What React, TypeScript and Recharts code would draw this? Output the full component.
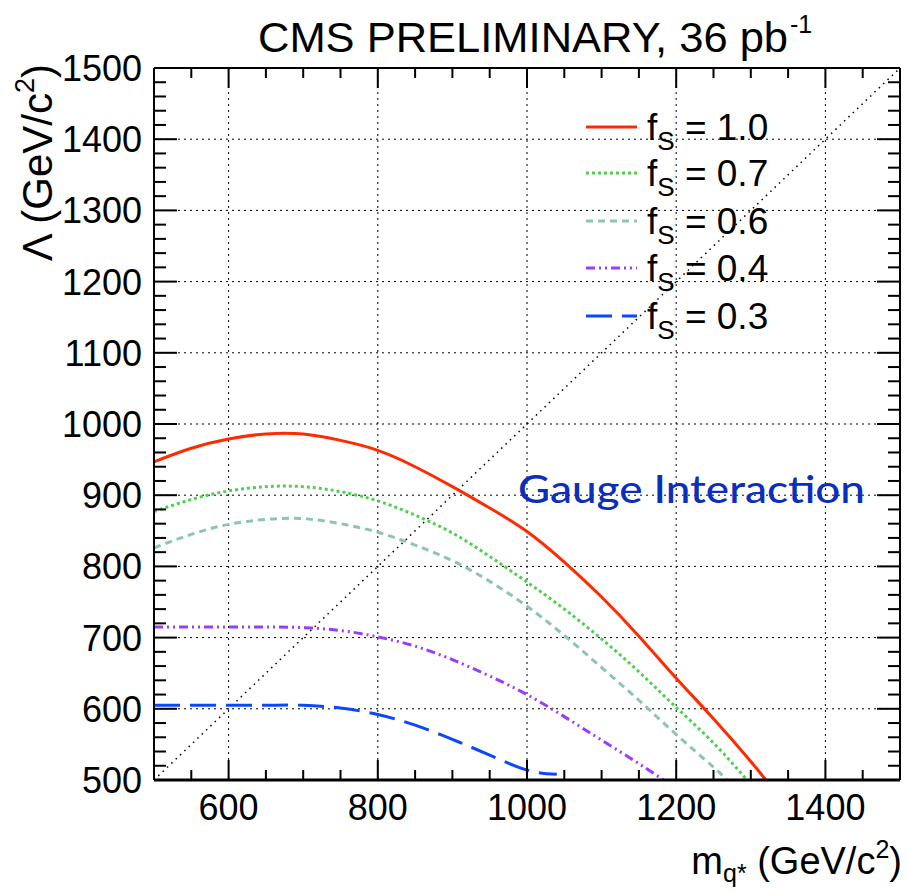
import React from 'react';
import { ComposedChart, Line, XAxis, YAxis, CartesianGrid, Customized } from 'recharts';

// q* mass (GeV/c^2) and Lambda limit (GeV/c^2)
const massF10 = [500, 550, 600, 650, 700, 750, 800, 850, 900, 950, 1000, 1050, 1100, 1150, 1200, 1250, 1300, 1320];
const lambdaF10 = [947, 966, 979, 986, 986, 977, 963, 940, 912, 882, 849, 806, 757, 702, 643, 586, 526, 500];

const massF07 = [500, 550, 600, 650, 700, 750, 800, 850, 900, 950, 1000, 1050, 1100, 1150, 1200, 1250, 1295];
const lambdaF07 = [877, 894, 906, 912, 912, 905, 892, 872, 847, 814, 778, 740, 698, 652, 602, 552, 500];

const massF06 = [500, 550, 600, 650, 700, 750, 800, 850, 900, 950, 1000, 1050, 1100, 1150, 1200, 1250, 1268];
const lambdaF06 = [826, 845, 859, 866, 867, 860, 848, 830, 808, 779, 744, 703, 658, 612, 564, 518, 500];

const massF04 = [500, 550, 600, 650, 700, 750, 800, 850, 900, 950, 1000, 1050, 1100, 1150, 1183];
const lambdaF04 = [715, 715, 715, 715, 714, 710, 701, 688, 669, 646, 620, 589, 556, 523, 500];

const massF03 = [500, 550, 600, 650, 700, 750, 800, 850, 900, 950, 1000, 1040];
const lambdaF03 = [605, 605, 605, 605, 605, 601, 592, 577, 557, 535, 514, 508];

const diagMass = [500, 1500];
const diagLambda = [500, 1500];

const xTicks = [500, 550, 600, 650, 700, 750, 800, 850, 900, 950, 1000, 1050, 1100, 1150, 1200, 1250, 1300, 1350, 1400, 1450, 1500];
const xLabels = [600, 800, 1000, 1200, 1400];
const yTicks = [
  500, 520, 540, 560, 580, 600, 620, 640, 660, 680, 700, 720, 740, 760, 780, 800, 820, 840, 860, 880,
  900, 920, 940, 960, 980, 1000, 1020, 1040, 1060, 1080, 1100, 1120, 1140, 1160, 1180, 1200, 1220, 1240,
  1260, 1280, 1300, 1320, 1340, 1360, 1380, 1400, 1420, 1440, 1460, 1480, 1500,
];
const yLabels = [500, 600, 700, 800, 900, 1000, 1100, 1200, 1300, 1400, 1500];
const gridX = [600, 800, 1000, 1200, 1400];
const gridY = [600, 700, 800, 900, 1000, 1100, 1200, 1300, 1400];

const zip = (xs: number[], ys: number[]) => xs.map((x, i) => ({ x, y: ys[i] }));

const series = [
  { name: '1.0', data: zip(massF10, lambdaF10), color: '#ff2a00', dash: undefined },
  { name: '0.7', data: zip(massF07, lambdaF07), color: '#4fd04f', dash: '3 3' },
  { name: '0.6', data: zip(massF06, lambdaF06), color: '#8cc6ac', dash: '7 5' },
  { name: '0.4', data: zip(massF04, lambdaF04), color: '#9a3cff', dash: '9 4 2 4 2 4' },
  { name: '0.3', data: zip(massF03, lambdaF03), color: '#0a48ff', dash: '26 10' },
];

const FONT = '"Liberation Sans", Arial, Helvetica, sans-serif';

const BottomTick = (props: any) => {
  const { x, y, payload } = props;
  const v = payload.value;
  const major = v % 200 === 0;
  return (
    <g>
      <path d={`M${x},${y}V${y - (major ? 20 : 10)}`} stroke="#000" strokeWidth={2} fill="none" />
      {xLabels.includes(v) && (
        <text x={x} y={y + 40} textAnchor="middle" fontSize={36} fontFamily={FONT} fill="#000" stroke="none">
          {v}
        </text>
      )}
    </g>
  );
};

const TopTick = (props: any) => {
  const { x, y, payload } = props;
  const major = payload.value % 200 === 0;
  return <path d={`M${x},${y}V${y + (major ? 20 : 10)}`} stroke="#000" strokeWidth={2} fill="none" />;
};

const LeftTick = (props: any) => {
  const { x, y, payload } = props;
  const v = payload.value;
  const major = v % 100 === 0;
  return (
    <g>
      <path d={`M${x},${y}H${x + (major ? 23 : 12)}`} stroke="#000" strokeWidth={2} fill="none" />
      {yLabels.includes(v) && (
        <text x={x - 12} y={y + 13} textAnchor="end" fontSize={36} fontFamily={FONT} fill="#000" stroke="none">
          {v}
        </text>
      )}
    </g>
  );
};

const RightTick = (props: any) => {
  const { x, y, payload } = props;
  const major = payload.value % 100 === 0;
  return <path d={`M${x},${y}H${x - (major ? 23 : 12)}`} stroke="#000" strokeWidth={2} fill="none" />;
};

const Overlay = () => {
  const rows = [127, 173, 221, 268, 316];
  return (
    <g fontFamily={FONT} fill="#000">
      <text x={258} y={52} fontSize={42} textLength={530} lengthAdjust="spacingAndGlyphs">
        CMS PRELIMINARY, 36 pb
      </text>
      <text x={790} y={33} fontSize={25}>-1</text>
      <text x={902} y={874} fontSize={38} textAnchor="end">
        m<tspan fontSize={25} dy={8}>q*</tspan>
        <tspan dy={-8}> (GeV/c</tspan>
        <tspan fontSize={25} dy={-16}>2</tspan>
        <tspan dy={16}>)</tspan>
      </text>
      <text x={52} y={64} fontSize={42} textAnchor="end" transform="rotate(-90 52 64)">
        Λ (GeV/c<tspan fontSize={27} dy={-18}>2</tspan>
        <tspan dy={18}>)</tspan>
      </text>
      <text x={518} y={503} fontSize={38} fill="#0b2fbd" fontFamily="Lato, 'Open Sans', sans-serif" fontWeight={500} textLength={347} lengthAdjust="spacingAndGlyphs">
        Gauge Interaction
      </text>
      {series.map((s, i) => (
        <g key={s.name}>
          <line x1={586} x2={637} y1={rows[i]} y2={rows[i]} stroke={s.color} strokeWidth={3} strokeDasharray={s.dash} />
          <text x={647} y={rows[i] + 13} fontSize={37}>
            f<tspan fontSize={26} dy={10}>S</tspan>
            <tspan dy={-10}> = {s.name}</tspan>
          </text>
        </g>
      ))}
    </g>
  );
};

export default function App() {
  return (
    <div style={{ position: 'absolute', left: 0, top: 0, background: '#fff' }}>
      <ComposedChart width={907} height={894} margin={{ top: 8, right: 2, bottom: 4, left: 4 }}>
        <CartesianGrid
          stroke="#000"
          strokeWidth={1}
          strokeDasharray="2 4"
          verticalValues={gridX}
          horizontalValues={gridY}
        />
        <XAxis
          xAxisId={0}
          type="number"
          dataKey="x"
          domain={[500, 1500]}
          allowDataOverflow
          ticks={xTicks}
          interval={0}
          height={110}
          tickSize={0}
          tickMargin={0}
          tickLine={false}
          tick={<BottomTick />}
          axisLine={{ stroke: '#000', strokeWidth: 3 }}
        />
        <XAxis
          xAxisId="top"
          orientation="top"
          type="number"
          dataKey="x"
          domain={[500, 1500]}
          allowDataOverflow
          ticks={xTicks}
          interval={0}
          height={60}
          tickSize={0}
          tickMargin={0}
          tickLine={false}
          tick={<TopTick />}
          axisLine={{ stroke: '#000', strokeWidth: 2 }}
        />
        <YAxis
          yAxisId={0}
          type="number"
          dataKey="y"
          domain={[500, 1500]}
          allowDataOverflow
          ticks={yTicks}
          interval={0}
          width={150}
          tickSize={0}
          tickMargin={0}
          tickLine={false}
          tick={<LeftTick />}
          axisLine={{ stroke: '#000', strokeWidth: 2 }}
        />
        <YAxis
          yAxisId="right"
          orientation="right"
          type="number"
          dataKey="y"
          domain={[500, 1500]}
          allowDataOverflow
          ticks={yTicks}
          interval={0}
          width={5}
          tickSize={0}
          tickMargin={0}
          tickLine={false}
          tick={<RightTick />}
          axisLine={{ stroke: '#000', strokeWidth: 2 }}
        />
        <Line
          xAxisId="top"
          yAxisId="right"
          data={zip(diagMass, diagLambda)}
          dataKey="y"
          type="linear"
          stroke="#000"
          strokeWidth={1.5}
          strokeDasharray="1.5 4.5"
          dot={false}
          activeDot={false}
          isAnimationActive={false}
        />
        {series.map((s) => (
          <Line
            key={s.name}
            data={s.data}
            dataKey="y"
            name={s.name}
            type="natural"
            stroke={s.color}
            strokeWidth={3}
            strokeDasharray={s.dash}
            dot={false}
            activeDot={false}
            isAnimationActive={false}
          />
        ))}
        <Customized component={Overlay} />
      </ComposedChart>
    </div>
  );
}
